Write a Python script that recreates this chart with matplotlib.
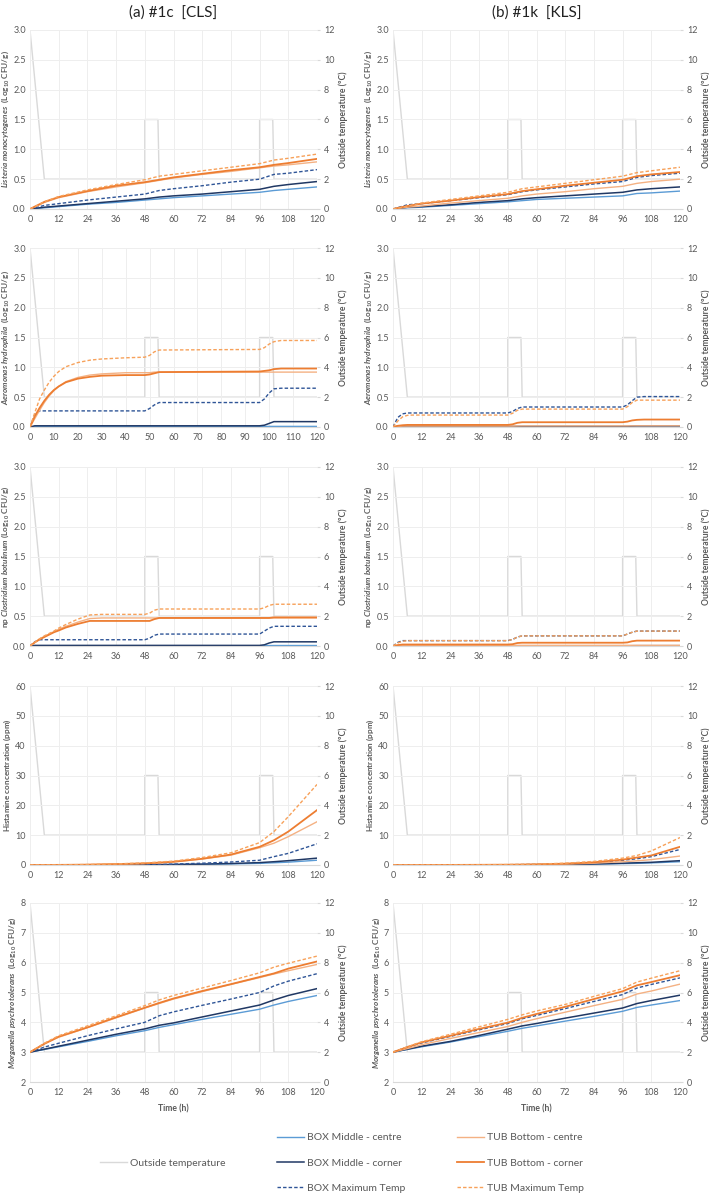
import matplotlib
matplotlib.use("Agg")
import matplotlib.pyplot as plt
from matplotlib.lines import Line2D

plt.rcParams['font.family'] = ['Lato', 'DejaVu Sans']
plt.rcParams['mathtext.fontset'] = 'custom'
plt.rcParams['mathtext.rm'] = 'Lato'
plt.rcParams['mathtext.it'] = 'Lato:italic'
plt.rcParams['mathtext.bf'] = 'Lato:bold'
plt.rcParams['mathtext.bfit'] = 'Lato:italic:bold'

# ---- outside temperature profile (secondary axis, degC)
temp_t = [0, 6, 48, 48, 53.5, 54, 96, 96, 101.5, 102, 120]
temp_v = [12, 2, 2, 6, 6, 2, 2, 6, 6, 2, 2]

# ---- time grids (h)
t_grid = [0, 6, 12, 24, 36, 48, 54, 60, 72, 84, 96, 102, 108, 120]
t_sat = [0, 2, 4, 6, 8, 10, 12, 15, 20, 25, 30, 40, 48, 50, 52, 54, 96, 98, 100, 102, 105, 120]

# ---- Listeria monocytogenes (log10 CFU/g), t_grid
lm_cls_box_centre = [0, 0.02, 0.04, 0.08, 0.11, 0.15, 0.17, 0.19, 0.22, 0.25, 0.28, 0.31, 0.33, 0.37]
lm_cls_box_corner = [0, 0.03, 0.05, 0.09, 0.13, 0.17, 0.20, 0.22, 0.25, 0.29, 0.33, 0.38, 0.41, 0.46]
lm_cls_box_max = [0, 0.06, 0.09, 0.15, 0.20, 0.25, 0.31, 0.34, 0.39, 0.45, 0.50, 0.58, 0.60, 0.66]
lm_cls_tub_centre = [0, 0.11, 0.19, 0.29, 0.37, 0.44, 0.48, 0.52, 0.58, 0.63, 0.69, 0.72, 0.74, 0.79]
lm_cls_tub_corner = [0, 0.12, 0.20, 0.30, 0.39, 0.45, 0.49, 0.53, 0.59, 0.65, 0.70, 0.74, 0.77, 0.84]
lm_cls_tub_max = [0, 0.12, 0.21, 0.32, 0.41, 0.49, 0.55, 0.58, 0.64, 0.70, 0.76, 0.82, 0.85, 0.92]

lm_kls_box_centre = [0, 0.02, 0.03, 0.06, 0.09, 0.12, 0.14, 0.16, 0.18, 0.20, 0.22, 0.26, 0.27, 0.30]
lm_kls_box_corner = [0, 0.03, 0.04, 0.07, 0.11, 0.14, 0.17, 0.19, 0.22, 0.25, 0.28, 0.32, 0.34, 0.37]
lm_kls_box_max = [0, 0.07, 0.09, 0.14, 0.19, 0.24, 0.29, 0.32, 0.37, 0.42, 0.46, 0.53, 0.56, 0.60]
lm_kls_tub_centre = [0, 0.03, 0.05, 0.10, 0.14, 0.18, 0.22, 0.25, 0.29, 0.34, 0.38, 0.43, 0.46, 0.50]
lm_kls_tub_corner = [0, 0.05, 0.09, 0.14, 0.20, 0.25, 0.30, 0.33, 0.39, 0.44, 0.49, 0.55, 0.58, 0.62]
lm_kls_tub_max = [0, 0.05, 0.10, 0.16, 0.22, 0.28, 0.34, 0.37, 0.43, 0.49, 0.55, 0.61, 0.64, 0.70]

# ---- Aeromonas hydrophila (log10 CFU/g), t_sat
ah_cls_box_centre = [0, 0.01, 0.01, 0.01, 0.01, 0.01, 0.01, 0.01, 0.01, 0.01, 0.01, 0.01, 0.01, 0.01, 0.01, 0.01, 0.01, 0.01, 0.01, 0.01, 0.01, 0.01]
ah_cls_box_corner = [0, 0.02, 0.02, 0.02, 0.02, 0.02, 0.02, 0.02, 0.02, 0.02, 0.02, 0.02, 0.02, 0.02, 0.02, 0.02, 0.02, 0.03, 0.06, 0.09, 0.09, 0.09]
ah_cls_box_max = [0, 0.20, 0.27, 0.27, 0.27, 0.27, 0.27, 0.27, 0.27, 0.27, 0.27, 0.27, 0.27, 0.31, 0.37, 0.41, 0.41, 0.47, 0.57, 0.64, 0.65, 0.65]
ah_cls_tub_centre = [0, 0.14, 0.28, 0.41, 0.52, 0.61, 0.68, 0.76, 0.83, 0.87, 0.89, 0.91, 0.91, 0.91, 0.92, 0.92, 0.92, 0.92, 0.92, 0.92, 0.92, 0.92]
ah_cls_tub_corner = [0, 0.18, 0.32, 0.44, 0.54, 0.62, 0.68, 0.75, 0.81, 0.84, 0.86, 0.87, 0.87, 0.88, 0.90, 0.92, 0.93, 0.94, 0.95, 0.97, 0.98, 0.98]
ah_cls_tub_max = [0, 0.24, 0.47, 0.62, 0.75, 0.85, 0.93, 1.01, 1.08, 1.12, 1.14, 1.16, 1.17, 1.20, 1.26, 1.29, 1.30, 1.33, 1.39, 1.43, 1.45, 1.45]

ah_kls_box_centre = [0, 0.005, 0.005, 0.005, 0.005, 0.005, 0.005, 0.005, 0.005, 0.005, 0.005, 0.005, 0.005, 0.005, 0.005, 0.005, 0.005, 0.005, 0.005, 0.005, 0.005, 0.005]
ah_kls_box_corner = [0, 0.01, 0.01, 0.01, 0.01, 0.01, 0.01, 0.01, 0.01, 0.01, 0.01, 0.01, 0.01, 0.01, 0.01, 0.01, 0.01, 0.01, 0.015, 0.02, 0.02, 0.02]
ah_kls_box_max = [0, 0.16, 0.22, 0.235, 0.235, 0.235, 0.235, 0.235, 0.235, 0.235, 0.235, 0.235, 0.235, 0.26, 0.31, 0.335, 0.335, 0.37, 0.44, 0.50, 0.51, 0.51]
ah_kls_tub_centre = [0, 0.01, 0.015, 0.015, 0.015, 0.015, 0.015, 0.015, 0.015, 0.015, 0.015, 0.015, 0.015, 0.015, 0.017, 0.018, 0.018, 0.018, 0.019, 0.02, 0.02, 0.02]
ah_kls_tub_corner = [0, 0.02, 0.03, 0.035, 0.035, 0.035, 0.035, 0.035, 0.035, 0.035, 0.035, 0.035, 0.035, 0.045, 0.07, 0.08, 0.08, 0.09, 0.11, 0.12, 0.125, 0.125]
ah_kls_tub_max = [0, 0.10, 0.17, 0.195, 0.20, 0.20, 0.20, 0.20, 0.20, 0.20, 0.20, 0.20, 0.20, 0.23, 0.28, 0.30, 0.30, 0.34, 0.41, 0.45, 0.45, 0.45]

# ---- np Clostridium botulinum (log10 CFU/g), t_sat
cb_cls_box_centre = [0, 0.005, 0.005, 0.005, 0.005, 0.005, 0.005, 0.005, 0.005, 0.005, 0.005, 0.005, 0.005, 0.005, 0.005, 0.005, 0.005, 0.006, 0.007, 0.008, 0.008, 0.008]
cb_cls_box_corner = [0, 0.01, 0.01, 0.01, 0.01, 0.01, 0.01, 0.01, 0.01, 0.01, 0.01, 0.01, 0.01, 0.01, 0.01, 0.01, 0.01, 0.02, 0.05, 0.07, 0.07, 0.07]
cb_cls_box_max = [0, 0.07, 0.105, 0.105, 0.105, 0.105, 0.105, 0.105, 0.105, 0.105, 0.105, 0.105, 0.105, 0.13, 0.18, 0.20, 0.20, 0.25, 0.30, 0.33, 0.33, 0.33]
cb_cls_tub_centre = [0, 0.06, 0.12, 0.16, 0.20, 0.24, 0.28, 0.33, 0.40, 0.46, 0.47, 0.47, 0.47, 0.47, 0.47, 0.47, 0.47, 0.47, 0.47, 0.47, 0.47, 0.47]
cb_cls_tub_corner = [0, 0.06, 0.11, 0.15, 0.19, 0.23, 0.26, 0.31, 0.37, 0.42, 0.42, 0.42, 0.42, 0.42, 0.45, 0.47, 0.47, 0.47, 0.47, 0.48, 0.48, 0.48]
cb_cls_tub_max = [0, 0.06, 0.12, 0.17, 0.21, 0.25, 0.30, 0.36, 0.45, 0.52, 0.53, 0.53, 0.53, 0.55, 0.60, 0.62, 0.62, 0.64, 0.68, 0.70, 0.70, 0.70]

cb_kls_box_centre = [0, 0.001, 0.001, 0.001, 0.001, 0.001, 0.001, 0.001, 0.001, 0.001, 0.001, 0.001, 0.001, 0.001, 0.001, 0.001, 0.001, 0.001, 0.001, 0.001, 0.001, 0.001]
cb_kls_box_corner = [0, 0.003, 0.003, 0.003, 0.003, 0.003, 0.003, 0.003, 0.003, 0.003, 0.003, 0.003, 0.003, 0.003, 0.003, 0.003, 0.003, 0.003, 0.004, 0.005, 0.005, 0.005]
cb_kls_box_max = [0, 0.06, 0.09, 0.09, 0.09, 0.09, 0.09, 0.09, 0.09, 0.09, 0.09, 0.09, 0.09, 0.11, 0.15, 0.17, 0.17, 0.20, 0.23, 0.25, 0.25, 0.25]
cb_kls_tub_centre = [0, 0.01, 0.01, 0.01, 0.01, 0.01, 0.01, 0.01, 0.01, 0.01, 0.01, 0.01, 0.01, 0.01, 0.011, 0.011, 0.011, 0.011, 0.012, 0.012, 0.012, 0.012]
cb_kls_tub_corner = [0, 0.015, 0.025, 0.025, 0.025, 0.025, 0.025, 0.025, 0.025, 0.025, 0.025, 0.025, 0.025, 0.03, 0.05, 0.055, 0.055, 0.06, 0.08, 0.09, 0.09, 0.09]
cb_kls_tub_max = [0, 0.05, 0.08, 0.09, 0.09, 0.09, 0.09, 0.09, 0.09, 0.09, 0.09, 0.09, 0.09, 0.11, 0.15, 0.17, 0.17, 0.20, 0.23, 0.25, 0.25, 0.25]

# ---- Histamine (ppm), t_grid
hi_cls_box_centre = [0, 0.0, 0.01, 0.02, 0.04, 0.08, 0.10, 0.13, 0.20, 0.35, 0.55, 0.75, 0.95, 1.6]
hi_cls_box_corner = [0, 0.01, 0.01, 0.03, 0.05, 0.10, 0.14, 0.18, 0.30, 0.50, 0.80, 1.1, 1.45, 2.3]
hi_cls_box_max = [0, 0.01, 0.02, 0.05, 0.08, 0.15, 0.22, 0.30, 0.60, 1.0, 1.6, 2.8, 3.9, 7.1]
hi_cls_tub_centre = [0, 0.02, 0.04, 0.11, 0.27, 0.50, 0.75, 1.0, 2.0, 3.3, 5.8, 7.3, 9.5, 14.5]
hi_cls_tub_corner = [0, 0.02, 0.04, 0.12, 0.30, 0.55, 0.80, 1.1, 2.1, 3.5, 6.1, 8.3, 11.2, 18.4]
hi_cls_tub_max = [0, 0.02, 0.05, 0.15, 0.35, 0.70, 1.0, 1.3, 2.5, 4.1, 7.5, 11.2, 16.2, 27.0]

hi_kls_box_centre = [0, 0, 0, 0.01, 0.02, 0.04, 0.06, 0.08, 0.15, 0.25, 0.45, 0.55, 0.70, 1.1]
hi_kls_box_corner = [0, 0, 0.01, 0.01, 0.03, 0.05, 0.08, 0.10, 0.20, 0.35, 0.60, 0.75, 0.90, 1.45]
hi_kls_box_max = [0, 0.01, 0.01, 0.03, 0.05, 0.10, 0.14, 0.20, 0.40, 0.80, 1.6, 2.1, 2.8, 5.2]
hi_kls_tub_centre = [0, 0, 0.01, 0.02, 0.04, 0.07, 0.10, 0.14, 0.30, 0.60, 1.1, 1.4, 1.8, 3.0]
hi_kls_tub_corner = [0, 0.01, 0.01, 0.03, 0.06, 0.10, 0.15, 0.22, 0.45, 0.90, 1.8, 2.5, 3.2, 6.1]
hi_kls_tub_max = [0, 0.01, 0.02, 0.04, 0.08, 0.15, 0.20, 0.30, 0.60, 1.2, 2.3, 3.2, 4.7, 9.2]

# ---- Morganella psychrotolerans (log10 CFU/g), t_grid
mp_cls_box_centre = [3.0, 3.09, 3.18, 3.36, 3.55, 3.72, 3.83, 3.92, 4.10, 4.27, 4.44, 4.58, 4.70, 4.90]
mp_cls_box_corner = [3.0, 3.10, 3.20, 3.40, 3.60, 3.78, 3.90, 3.98, 4.18, 4.38, 4.58, 4.75, 4.90, 5.13]
mp_cls_box_max = [3.0, 3.17, 3.30, 3.55, 3.78, 4.00, 4.22, 4.35, 4.57, 4.78, 5.00, 5.22, 5.38, 5.63]
mp_cls_tub_centre = [3.0, 3.28, 3.50, 3.82, 4.15, 4.48, 4.63, 4.78, 5.03, 5.27, 5.50, 5.62, 5.73, 5.94]
mp_cls_tub_corner = [3.0, 3.28, 3.52, 3.83, 4.17, 4.49, 4.65, 4.80, 5.05, 5.28, 5.52, 5.64, 5.80, 6.04]
mp_cls_tub_max = [3.0, 3.30, 3.55, 3.88, 4.22, 4.56, 4.75, 4.90, 5.15, 5.40, 5.66, 5.85, 5.98, 6.22]

mp_kls_box_centre = [3.0, 3.09, 3.18, 3.34, 3.52, 3.70, 3.80, 3.88, 4.04, 4.20, 4.37, 4.50, 4.58, 4.73]
mp_kls_box_corner = [3.0, 3.10, 3.20, 3.36, 3.56, 3.77, 3.88, 3.96, 4.14, 4.31, 4.48, 4.63, 4.73, 4.91]
mp_kls_box_max = [3.0, 3.17, 3.31, 3.53, 3.75, 3.96, 4.12, 4.23, 4.46, 4.70, 4.93, 5.15, 5.27, 5.49]
mp_kls_tub_centre = [3.0, 3.12, 3.25, 3.46, 3.66, 3.86, 4.00, 4.12, 4.34, 4.56, 4.77, 4.95, 5.05, 5.28]
mp_kls_tub_corner = [3.0, 3.17, 3.33, 3.55, 3.78, 3.99, 4.15, 4.28, 4.52, 4.78, 5.04, 5.24, 5.35, 5.58]
mp_kls_tub_max = [3.0, 3.18, 3.35, 3.60, 3.85, 4.10, 4.25, 4.38, 4.60, 4.87, 5.13, 5.35, 5.48, 5.73]

series_names = ['BOX Middle - centre', 'BOX Middle - corner', 'BOX Maximum Temp',
                'TUB Bottom - centre', 'TUB Bottom - corner', 'TUB Maximum Temp']
column_titles = ['(a) #1c  [CLS]', '(b) #1k  [KLS]']
row_ylabels = [
    r'$\mathbfit{Listeria\ monocytogenes}\ \ \mathbf{(Log_{10}\ CFU/g)}$',
    r'$\mathbfit{Aeromonas\ hydrophila}\ \ \mathbf{(Log_{10}\ CFU/g)}$',
    r'$\mathbf{np}\ \mathbfit{Clostridium\ botulinum}\ \mathbf{(Log_{10}\ CFU/g)}$',
    r'$\mathbf{Histamine\ concentration\ (ppm)}$',
    r'$\mathbfit{Morganella\ psychrotolerans}\ \ \mathbf{(Log_{10}\ CFU/g)}$',
]
row_ylims = [(0, 3.0, 0.5), (0, 3.0, 0.5), (0, 3.0, 0.5), (0, 60, 10), (2, 8, 1)]
row_yfmt = ['{:.1f}', '{:.1f}', '{:.1f}', '{:.0f}', '{:.0f}']

# styles
styles = [
    dict(color='#5b9bd5', lw=1.0, ls='-'),
    dict(color='#203864', lw=1.1, ls='-'),
    dict(color='#2f5597', lw=1.0, ls=(0, (2.5, 1.5))),
    dict(color='#f4b183', lw=1.0, ls='-'),
    dict(color='#ed7d31', lw=1.3, ls='-'),
    dict(color='#f7a15a', lw=1.0, ls=(0, (2.5, 1.5))),
]
temp_style = dict(color='#d9d9d9', lw=1.0, ls='-')
text_color = '#595959'

panels = [
    [(t_grid, [lm_cls_box_centre, lm_cls_box_corner, lm_cls_box_max, lm_cls_tub_centre, lm_cls_tub_corner, lm_cls_tub_max]),
     (t_grid, [lm_kls_box_centre, lm_kls_box_corner, lm_kls_box_max, lm_kls_tub_centre, lm_kls_tub_corner, lm_kls_tub_max])],
    [(t_sat, [ah_cls_box_centre, ah_cls_box_corner, ah_cls_box_max, ah_cls_tub_centre, ah_cls_tub_corner, ah_cls_tub_max]),
     (t_sat, [ah_kls_box_centre, ah_kls_box_corner, ah_kls_box_max, ah_kls_tub_centre, ah_kls_tub_corner, ah_kls_tub_max])],
    [(t_sat, [cb_cls_box_centre, cb_cls_box_corner, cb_cls_box_max, cb_cls_tub_centre, cb_cls_tub_corner, cb_cls_tub_max]),
     (t_sat, [cb_kls_box_centre, cb_kls_box_corner, cb_kls_box_max, cb_kls_tub_centre, cb_kls_tub_corner, cb_kls_tub_max])],
    [(t_grid, [hi_cls_box_centre, hi_cls_box_corner, hi_cls_box_max, hi_cls_tub_centre, hi_cls_tub_corner, hi_cls_tub_max]),
     (t_grid, [hi_kls_box_centre, hi_kls_box_corner, hi_kls_box_max, hi_kls_tub_centre, hi_kls_tub_corner, hi_kls_tub_max])],
    [(t_grid, [mp_cls_box_centre, mp_cls_box_corner, mp_cls_box_max, mp_cls_tub_centre, mp_cls_tub_corner, mp_cls_tub_max]),
     (t_grid, [mp_kls_box_centre, mp_kls_box_corner, mp_kls_box_max, mp_kls_tub_centre, mp_kls_tub_corner, mp_kls_tub_max])],
]

W, H = 709, 1198
fig = plt.figure(figsize=(W / 100, H / 100), dpi=100)

col_left_px = [30, 393]
ax_w_px = 287
ax_h_px = 179
row_bottom_px = [209, 427, 646, 865, 1082]

for r in range(5):
    for c in range(2):
        rect = [col_left_px[c] / W, 1 - row_bottom_px[r] / H, ax_w_px / W, ax_h_px / H]
        ax = fig.add_axes(rect)
        ax2 = ax.twinx()
        # temperature behind the data lines
        ax.set_zorder(ax2.get_zorder() + 1)
        ax.patch.set_visible(False)
        ax2.plot(temp_t, temp_v, **temp_style)
        ax2.set_ylim(0, 12)
        ax2.set_yticks(range(0, 13, 2))

        t, ys = panels[r][c]
        for y, st in zip(ys, styles):
            ax.plot(t, y, **st)

        lo, hi, step = row_ylims[r]
        n = int(round((hi - lo) / step))
        yt = [lo + i * step for i in range(n + 1)]
        ax.set_ylim(lo, hi)
        ax.set_yticks(yt)
        ax.set_yticklabels([row_yfmt[r].format(v) for v in yt])
        ax.set_xlim(0, 120)
        xstep = 10 if (r == 1 and c == 0) else 12
        ax.set_xticks(range(0, 121, xstep))

        ax.grid(True, color='#eeeeee', lw=0.7)
        ax.set_axisbelow(True)
        for a in (ax, ax2):
            for s in a.spines.values():
                s.set_visible(False)
        ax.spines['bottom'].set_visible(True)
        ax.spines['bottom'].set_color('#d9d9d9')
        ax.tick_params(axis='x', length=0, labelsize=6.5, colors=text_color, pad=4)
        ax.tick_params(axis='y', length=0, labelsize=6.5, colors=text_color, pad=3)
        ax2.tick_params(axis='y', length=2, color='#d9d9d9', labelsize=6.5, colors=text_color, pad=3)

        ax.set_ylabel(row_ylabels[r], fontsize=5.9, color=text_color, labelpad=1.5)
        ax2.set_ylabel('Outside temperature (ºC)', fontsize=6.2, color=text_color,
                       fontweight='bold', labelpad=3)
        if r == 4:
            ax.set_xlabel('Time (h)', fontsize=6.2, color=text_color, fontweight='bold', labelpad=6)

for c, title in enumerate(column_titles):
    xc = (col_left_px[c] + ax_w_px / 2) / W
    fig.text(xc, 1 - 13 / H, title, ha='center', va='center', fontsize=11, color='#222222')

# legends
leg_kw = dict(frameon=False, fontsize=7.5, labelcolor=text_color, handlelength=2.6,
              handletextpad=0.25, borderpad=0, borderaxespad=0, labelspacing=1.55,
              loc='center left')
h_temp = [Line2D([], [], **temp_style)]
fig.legend(h_temp, ['Outside temperature'], bbox_to_anchor=(100 / W, 1 - 1163 / H), **leg_kw)
h_box = [Line2D([], [], **st) for st in styles[:3]]
fig.legend(h_box, series_names[:3], bbox_to_anchor=(277 / W, 1 - 1163 / H), **leg_kw)
h_tub = [Line2D([], [], **st) for st in styles[3:]]
fig.legend(h_tub, series_names[3:], bbox_to_anchor=(457 / W, 1 - 1163 / H), **leg_kw)

fig.savefig('out.png', dpi=100, facecolor='white')
